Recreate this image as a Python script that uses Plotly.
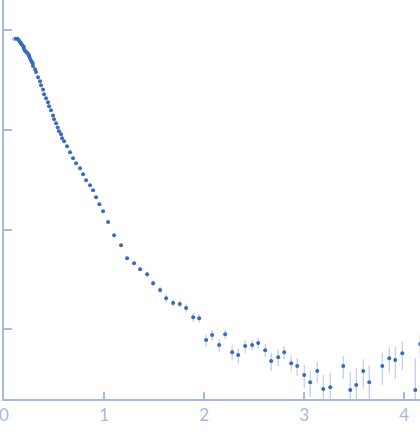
import plotly.graph_objects as go

# scattering curve, q (1/nm) vs intensity (arb. units, log)
q_first = [0.097]
i_first = [0.824]

q = [0.117, 0.134, 0.147, 0.157, 0.167, 0.177, 0.187, 0.197, 0.200, 0.210,
     0.220, 0.230, 0.244, 0.250, 0.257, 0.267, 0.277, 0.287, 0.290, 0.310,
     0.320, 0.340, 0.360, 0.370, 0.390, 0.400, 0.420, 0.440, 0.450, 0.470,
     0.490, 0.500, 0.520, 0.537, 0.550, 0.570, 0.580, 0.600, 0.630, 0.660,
     0.690, 0.720, 0.760, 0.790, 0.820, 0.860, 0.890, 0.920, 0.953, 0.990,
     1.040, 1.100, 1.170, 1.230, 1.300, 1.360, 1.430, 1.490, 1.560, 1.620,
     1.690, 1.757, 1.820, 1.890, 1.950, 2.020, 2.080, 2.150, 2.210, 2.280,
     2.340, 2.410, 2.480, 2.540, 2.610, 2.670, 2.740, 2.800, 2.870, 2.930,
     3.000, 3.060, 3.130, 3.190, 3.260, 3.390, 3.460, 3.520, 3.590, 3.650,
     3.780, 3.850, 3.910, 3.980, 4.110, 4.160]

intensity = [0.824, 0.824, 0.800, 0.769, 0.751, 0.724, 0.701, 0.685, 0.649, 0.624,
             0.610, 0.596, 0.574, 0.556, 0.531, 0.504, 0.484, 0.467, 0.439, 0.406,
             0.382, 0.338, 0.308, 0.281, 0.254, 0.228, 0.208, 0.190, 0.173, 0.158,
             0.140, 0.128, 0.117, 0.106, 0.0970, 0.0905, 0.0826, 0.0771, 0.0687, 0.0597,
             0.0520, 0.0463, 0.0413, 0.0360, 0.0313, 0.0279, 0.0248, 0.0211, 0.0180, 0.0153,
             0.0119, 0.00879, 0.00698, 0.00516, 0.00460, 0.00401, 0.00357, 0.00290, 0.00247, 0.00205,
             0.00183, 0.00179, 0.00163, 0.00132, 0.00129, 0.000778, 0.000873, 0.000693, 0.000893, 0.000589,
             0.000550, 0.000678, 0.000693, 0.000726, 0.000617, 0.000479, 0.000525, 0.000589, 0.000457, 0.000427,
             0.000347, 0.000294, 0.000380, 0.000251, 0.000262, 0.000427, 0.000245, 0.000275, 0.000380, 0.000294,
             0.000427, 0.000513, 0.000490, 0.000575, 0.000245, 0.000710]

err = [0.008, 0.008, 0.008, 0.008, 0.007, 0.007, 0.007, 0.007, 0.006, 0.006,
       0.006, 0.006, 0.006, 0.006, 0.005, 0.005, 0.005, 0.005, 0.004, 0.004,
       0.004, 0.003, 0.003, 0.003, 0.003, 0.002, 0.002, 0.002, 0.002, 0.002,
       0.001, 0.001, 0.001, 0.001, 0.001, 0.001, 0.001, 0.001, 0.001, 0.0008,
       0.0007, 0.0006, 0.0005, 0.0005, 0.0004, 0.0004, 0.0004, 0.0003, 0.0003, 0.0003,
       0.0003, 0.0002, 0.0002, 0.0002, 0.0002, 0.0002, 0.0002, 0.0002, 0.0002, 0.0002,
       0.00015, 0.00016, 0.00015, 0.00013, 0.00013, 0.000101, 0.000113, 0.000103, 0.0000929, 0.000103,
       0.0000963, 0.000101, 0.0000845, 0.0000886, 0.0000919, 0.0000972, 0.0000966, 0.0000878, 0.0000800, 0.0000867,
       0.0000899, 0.0000850, 0.0000878, 0.0000959, 0.000100, 0.000111, 0.000126, 0.000132, 0.000121, 0.000141,
       0.000150, 0.000148, 0.000172, 0.000183, 0.000268, 0.000200]

axis_col = '#a7b9e3'
dot_col = '#3a69bd'

fig = go.Figure()
fig.add_trace(go.Scatter(x=q_first, y=i_first, mode='markers',
                         marker=dict(size=4, color='#b9c9ea'),
                         hoverinfo='skip', showlegend=False))
fig.add_trace(go.Scatter(x=q, y=intensity, mode='markers',
                         marker=dict(size=4, color=dot_col),
                         error_y=dict(type='data', array=err, visible=True,
                                      color='#bccbeb', thickness=1.2, width=0),
                         showlegend=False))

fig.update_layout(
    width=420, height=437, autosize=False,
    margin=dict(l=4, r=0, t=0, b=38),
    paper_bgcolor='white', plot_bgcolor='white',
    font=dict(family='Lato', color=axis_col),
)
fig.update_xaxes(range=[0, 4.157], dtick=1, showgrid=False, zeroline=False,
                 showline=True, linecolor=axis_col, linewidth=1.5,
                 ticks='inside', ticklen=7, tickcolor=axis_col, tickwidth=1.5,
                 ticklabeloverflow='allow',
                 tickfont=dict(size=17, color=axis_col))
fig.update_yaxes(type='log', range=[-3.70, 0.304], dtick=1, showgrid=False,
                 zeroline=False, showline=True, linecolor=axis_col, linewidth=1.5,
                 ticks='inside', ticklen=8, tickcolor=axis_col, tickwidth=1.5,
                 showticklabels=False)

# page body margin would push the plot 8px off the window
fig.write_html("out.html", config={'displayModeBar': False},
               post_script="document.body.style.margin='0';")
